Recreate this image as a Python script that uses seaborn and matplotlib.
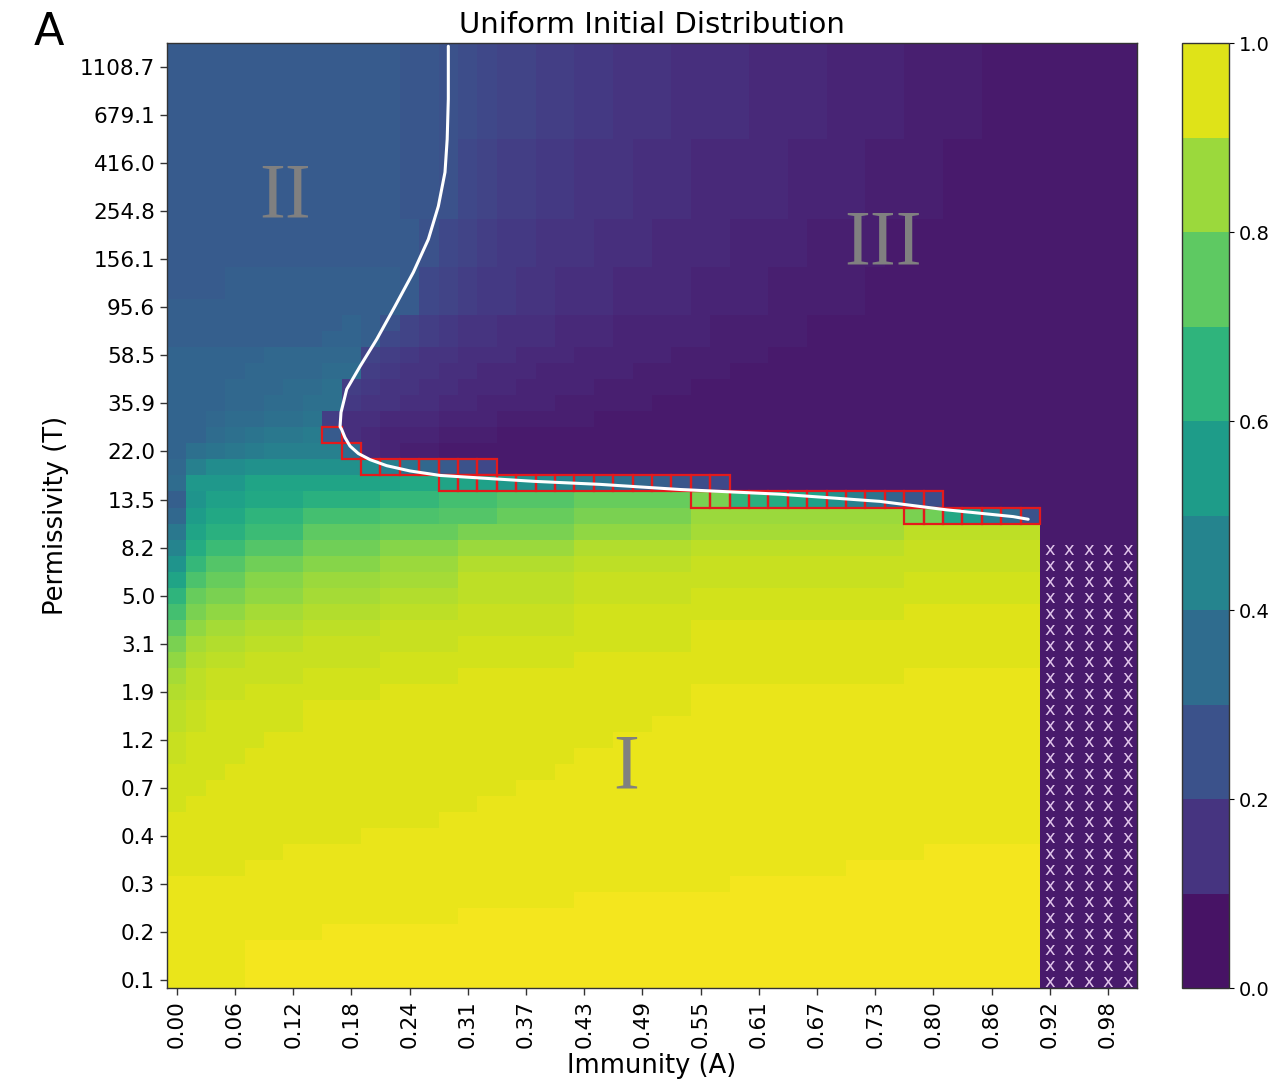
import numpy as np
import pandas as pd
import matplotlib
matplotlib.use("Agg")
import matplotlib.pyplot as plt
import matplotlib.cm as cm
from matplotlib.colors import ListedColormap, BoundaryNorm
from matplotlib.patches import Rectangle
import seaborn as sns

# ---------------- data ----------------
immunity = np.linspace(0, 1, 50)              # A grid (columns)
permissivity = np.geomspace(0.1, 1305.5, 59)  # T grid (rows, low -> high)

x_tick_labels = ["0.00", "0.06", "0.12", "0.18", "0.24", "0.31", "0.37", "0.43", "0.49",
                 "0.55", "0.61", "0.67", "0.73", "0.80", "0.86", "0.92", "0.98"]
y_tick_labels = ["0.1", "0.2", "0.3", "0.4", "0.7", "1.2", "1.9", "3.1", "5.0", "8.2",
                 "13.5", "22.0", "35.9", "58.5", "95.6", "156.1", "254.8", "416.0",
                 "679.1", "1108.7"]
cbar_ticks = [0.0, 0.2, 0.4, 0.6, 0.8, 1.0]

# cell values, one char per cell: index in CODE / 60 ; '.' = not computed
CODE = "0123456789abcdefghijklmnopqrstuvwxyzABCDEFGHIJKLMNOPQRSTUVWXYZ"
value_rows = [  # top row (highest T) first
    "hhhhhhhhhh hhggfedccb baa9998888 7777666655 5544444444",
    "hhhhhhhhhh hhggfedccb baa9998888 7777666655 5544444444",
    "hhhhhhhhhh hhggfedccb baa9998888 7777666655 5544444444",
    "hhhhhhhhhh hhggfedccb baa9998888 7777666655 5544444444",
    "hhhhhhhhhh hhggfedccb baa9998888 7777666655 5544444444",
    "hhhhhhhhhh hhggfedccb baa9998888 7777666655 5544444444",
    "hhhhhhhhhh hhggfdcbba a999888777 7766665555 4444444444",
    "hhhhhhhhhh hhggfdcbba a999888777 7766665555 4444444444",
    "hhhhhhhhhh hhggfdcbba a999888777 7766665555 4444444444",
    "hhhhhhhhhh hhggfdcbba a999888777 7766665555 4444444444",
    "hhhhhhhhhh hhggfdcbba a999888777 7766665555 4444444444",
    "hhhhhhhhhh hhhfdcbaa9 9988877776 6665555444 4444444444",
    "hhhhhhhhhh hhhfdcbaa9 9988877776 6665555444 4444444444",
    "hhhhhhhhhh hhhfdcbaa9 9988877776 6665555444 4444444444",
    "hhhiiiiiii iihdcbaa99 8887777666 6555554444 4444444444",
    "hhhiiiiiii iihdcbaa99 8887777666 6555554444 4444444444",
    "iiiiiiiiii iihdcbaa99 8887777666 6555554444 4444444444",
    "iiiiiiiiij ifcba99888 7776666655 5554444444 4444444444",
    "iiiiiiiijj idcba99888 7776666655 5554444444 4444444444",
    "jjjjjkkkkk cba9988877 7666665555 5444444444 4444444444",
    "jjjjkkkkll ba99887776 6666555554 4444444444 4444444444",
    "jjjkkkllmb a998877766 6655555444 4444444444 4444444444",
    "jjjkkllmma 9988776666 5555544444 4444444444 4444444444",
    "jjkllmmnb8 8777666555 5544444444 4444444444 4444444444",
    "jjlmnooph8 7666555444 4444444444 4444444444 4444444444",
    "jmnopqqqql 7655444444 4444444444 4444444444 4444444444",
    "kqttuuuuuu tqnkhfd444 4444444444 4444444444 4444444444",
    "lwwwzzzzzz zzAAzzywut rpnmkiged4 4444444444 4444444444",
    "ivyyAAACCC CEEEGGGIII IKKKKKKMMD CBAyuqnjge 4444444444",
    "kxAADDDGGG GHHHIIIKKK KMMMMMMPPP PPPPPPPPML Axqlf44444",
    "ozCCFFFJJJ JKKKKMMMMM MOOOOOOQQQ QQQQQQQQSS SSSSS44444",
    "rBFFIIILLL LNNNNPPPPP PRRRRRRSSS SSSSSSSSTT TTTTT.....",
    "vEIILLLNNN NPPPPRRRRR RSSSSSSTTT TTTTTTTTTT TTTTT.....",
    "zHKKNNNPPP PQQQQSSSSS STTTTTTTTT TTTTTTTTUU UUUUU.....",
    "DKMMOOOQQQ QRRRRSSSSS STTTTTTUUU UUUUUUUUUU UUUUU.....",
    "GMOOQQQRRR RSSSSTTTTT TUUUUUUUUU UUUUUUUUVV VVVVV.....",
    "JOQQRRRSSS STTTTTTTTT TUUUUUUVVV VVVVVVVVVV VVVVV.....",
    "MQRRSSSTTT TTTTTUUUUU UUUUUUUVVV VVVVVVVVVV VVVVV.....",
    "ORSSTTTTTT TUUUUUUUUU UVVVVVVVVV VVVVVVVVVV VVVVV.....",
    "QSTTTTTUUU UUUUUVVVVV VVVVVVVVVV VVVVVVVVWW WWWWW.....",
    "RSTTUUUUUU UVVVVVVVVV VVVVVVVWWW WWWWWWWWWW WWWWW.....",
    "STUUUUUVVV VVVVVVVVVV VVVVVVVWWW WWWWWWWWWW WWWWW.....",
    "STUUUUUVVV VVVVVVVVVV VVVVVWWWWW WWWWWWWWWW WWWWW.....",
    "TUUUUVVVVV VVVVVVVVVV VVVWWWWWWW WWWWWWWWWW WWWWW.....",
    "TUUUVVVVVV VVVVVVVVVV VWWWWWWWWW WWWWWWWWWW WWWWW.....",
    "UUUVVVVVVV VVVVVVVVVV WWWWWWWWWW WWWWWWWWWW WWWWW.....",
    "UUVVVVVVVV VVVVVVVVWW WWWWWWWWWW WWWWWWWWWW WWWWW.....",
    "UVVVVVVVVV VVVVVVWWWW WWWWWWWWWW WWWWWWWWWW WWWWW.....",
    "VVVVVVVVVV VVVVWWWWWW WWWWWWWWWW WWWWWWWWWW WWWWW.....",
    "VVVVVVVVVV WWWWWWWWWW WWWWWWWWWW WWWWWWWWWW WWWWW.....",
    "VVVVVVWWWW WWWWWWWWWW WWWWWWWWWW WWWWWWWWWX XXXXX.....",
    "VVVVWWWWWW WWWWWWWWWW WWWWWWWWWW WWWWWXXXXX XXXXX.....",
    "WWWWWWWWWW WWWWWWWWWW WWWWWWWWWX XXXXXXXXXX XXXXX.....",
    "WWWWWWWWWW WWWWWWWWWW WXXXXXXXXX XXXXXXXXXX XXXXX.....",
    "WWWWWWWWWW WWWWWXXXXX XXXXXXXXXX XXXXXXXXXX XXXXX.....",
    "WWWWWWWWXX XXXXXXXXXX XXXXXXXXXX XXXXXXXXXX XXXXX.....",
    "WWWWXXXXXX XXXXXXXXXX XXXXXXXXXX XXXXXXXXXX XXXXX.....",
    "WWWWXXXXXX XXXXXXXXXX XXXXXXXXXX XXXXXXXXXX XXXXX.....",
    "WWWWXXXXXX XXXXXXXXXX XXXXXXXXXX XXXXXXXXXX XXXXX.....",
]

# transition cells (outlined in red): row index, first column, last column
transition_rows = [34, 33, 32, 31, 30, 29]
transition_first = [8, 9, 10, 14, 27, 38]
transition_last = [8, 9, 16, 28, 39, 44]

# white boundary curve (A, T)
boundary_A = [0.2857, 0.2857, 0.2845, 0.2822, 0.2752, 0.2647, 0.2489, 0.2296, 0.2104,
              0.1928, 0.1788, 0.1728, 0.1718, 0.1735, 0.1770, 0.1823, 0.1911, 0.2034,
              0.2208, 0.2455, 0.2770, 0.3054, 0.3751, 0.4453, 0.5294, 0.6347, 0.7398,
              0.8104, 0.8799, 0.8957]
boundary_T = [1370, 800, 531, 379, 268, 191.3, 136.6, 96.6, 69.0,
              52.3, 41.4, 32.7, 28.3, 27.5, 25.3, 23.2, 21.5, 20.2,
              19.0, 18.0, 17.2, 16.9, 16.2, 15.7, 14.9, 14.2, 13.2,
              12.1, 11.3, 11.0]

region_labels = ["I", "II", "III"]
region_pos = [(0.473, 0.232), (0.1216, 0.836), (0.738, 0.786)]  # axes fraction


def decode(row):
    s = row.replace(" ", "")
    assert len(s) == 50, (row, len(s))
    return [np.nan if ch == "." else CODE.index(ch) / 60 for ch in s]


grid = np.array([decode(r) for r in value_rows[::-1]])  # row 0 = lowest T
df = pd.DataFrame(grid, index=permissivity, columns=immunity)

# ---------------- figure ----------------
fig = plt.figure(figsize=(12.8, 10.86), dpi=100)
ax = fig.add_axes([0.1305, 0.0902, 0.7578, 0.8702])
cax = fig.add_axes([0.9234, 0.0902, 0.0367, 0.8702])

ax.set_facecolor(plt.cm.viridis(0.067))
sns.heatmap(df, ax=ax, cmap="viridis", vmin=0, vmax=1, cbar=False,
            xticklabels=False, yticklabels=False)
ax.set_ylim(0, len(permissivity))
ax.set_xlim(0, len(immunity))

for s in ax.spines.values():
    s.set_visible(True)
    s.set_linewidth(1.0)
    s.set_color("#333333")

ax.set_xticks(np.arange(0, len(immunity), 3) + 0.5)
ax.set_xticklabels(x_tick_labels, rotation=90, fontsize=15.5)
ax.set_yticks(np.arange(0, len(permissivity), 3)[:len(y_tick_labels)] + 0.5)
ax.set_yticklabels(y_tick_labels, rotation=0, fontsize=15.5)
ax.tick_params(length=5, width=1, color="#333333")

# not-computed cells
for i, j in zip(*np.where(np.isnan(grid))):
    ax.text(j + 0.5, i + 0.5, "x", ha="center", va="center_baseline",
            color="#e0c4ea", fontsize=13, zorder=3)

# transition cells
for r, c0, c1 in zip(transition_rows, transition_first, transition_last):
    for c in range(c0, c1 + 1):
        ax.add_patch(Rectangle((c, r), 1, 1, fill=False, edgecolor="#e31a1c",
                               lw=1.6, zorder=4))

# boundary curve, mapped through the heatmap's axis grids
col_pos = np.interp(boundary_A, immunity, np.arange(len(immunity)) + 0.5)
logT = np.log(permissivity)
row_pos = 0.5 + (np.log(boundary_T) - logT[0]) / (logT[1] - logT[0])
ax.plot(col_pos, row_pos, color="white", lw=2.2, zorder=5, solid_capstyle="round",
        solid_joinstyle="round")

for lab, (px, py) in zip(region_labels, region_pos):
    ax.text(px, py, lab, transform=ax.transAxes, ha="center", va="center",
            fontsize=56, color="#808080", family="Liberation Serif", zorder=6)

ax.set_title("Uniform Initial Distribution", fontsize=21, pad=7)
ax.set_xlabel("Immunity (A)", fontsize=18.5, labelpad=4)
ax.set_ylabel("Permissivity (T)", fontsize=18.5, labelpad=8)

# discrete colorbar
bounds = np.linspace(0, 1, 11)
band_cmap = ListedColormap(plt.cm.viridis(np.linspace(0.05, 0.95, 10)))
norm = BoundaryNorm(bounds, band_cmap.N)
cb = fig.colorbar(cm.ScalarMappable(norm=norm, cmap=band_cmap), cax=cax, ticks=cbar_ticks)
cb.ax.minorticks_off()
cb.ax.set_yticklabels([f"{t:.1f}" for t in cbar_ticks], fontsize=14)
cb.outline.set_linewidth(1.0)
cb.outline.set_edgecolor("#333333")

fig.text(0.026, 0.9586, "A", fontsize=32, ha="left", va="baseline")

fig.savefig("out.png", dpi=100)
